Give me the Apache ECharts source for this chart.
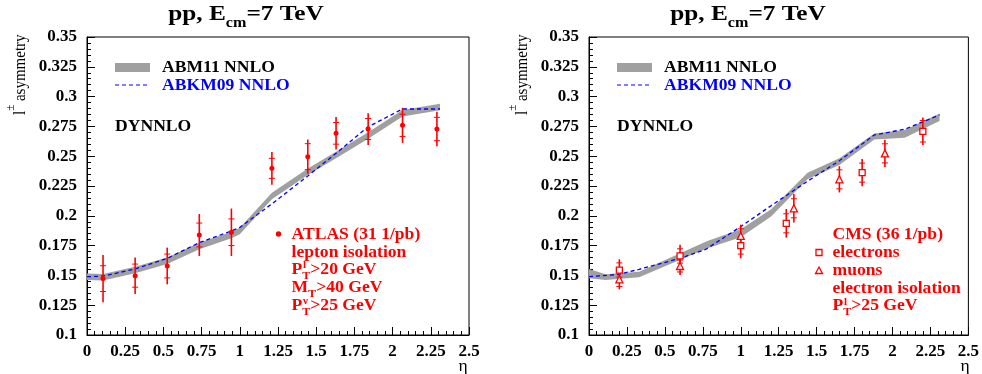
<!DOCTYPE html>
<html><head><meta charset="utf-8">
<script src="https://cdn.jsdelivr.net/npm/echarts@6/dist/echarts.min.js"></script>
<style>html,body{margin:0;padding:0;background:#fff}#c{width:982px;height:374px}</style>
</head><body><div id="c"></div>
<script>
// ---------- Axis ticks ----------
const xTickMin = 0, xTickMax = 2.5, xTickStep = 0.25;
const yTickMin = 0.1, yTickMax = 0.35, yTickStep = 0.025;

// ---------- Left panel: ATLAS ----------
const atlasEta      = [0.105, 0.315, 0.525, 0.735, 0.945, 1.21, 1.445, 1.63, 1.84, 2.065, 2.29];
const atlasAsym     = [0.1473, 0.1498, 0.1579, 0.1839, 0.1862, 0.2398, 0.2496, 0.2692, 0.2728, 0.2759, 0.2728];
const atlasTotErr   = [0.0199, 0.0153, 0.0154, 0.0176, 0.0199, 0.0138, 0.0144, 0.0136, 0.0133, 0.0147, 0.0145];
const atlasStatErr  = [0.0108, 0.0097, 0.0100, 0.0100, 0.0112, 0.0084, 0.0109, 0.0091, 0.0088, 0.0093, 0.0098];

const abm11LeftEta  = [0, 0.105, 0.315, 0.525, 0.735, 0.945, 1.0, 1.21, 1.445, 1.63, 1.835, 2.065, 2.31];
const abm11LeftLow  = [0.1462, 0.1458, 0.1518, 0.1596, 0.1720, 0.1812, 0.1846, 0.2139, 0.2343, 0.2483, 0.2643, 0.2833, 0.2885];
const abm11LeftHigh = [0.1516, 0.1512, 0.1572, 0.1650, 0.1774, 0.1866, 0.1900, 0.2193, 0.2397, 0.2537, 0.2697, 0.2887, 0.2939];

const abkm09LeftEta = [0, 0.105, 0.315, 0.525, 0.735, 0.945, 1.0, 1.21, 1.445, 1.63, 1.835, 2.065, 2.31];
const abkm09Left    = [0.1489, 0.1494, 0.1554, 0.1643, 0.1775, 0.1873, 0.1903, 0.2100, 0.2334, 0.2524, 0.2743, 0.2896, 0.2896];

// ---------- Right panel: CMS ----------
const cmsElEta      = [0.2, 0.6, 1.0, 1.3, 1.8, 2.2];
const cmsElAsym     = [0.1545, 0.1663, 0.1749, 0.1937, 0.2362, 0.2709];
const cmsElTotErr   = [0.0090, 0.0095, 0.0105, 0.0120, 0.0115, 0.0115];
const cmsElStatErr  = [0.0060, 0.0060, 0.0070, 0.0080, 0.0080, 0.0090];

const cmsMuEta      = [0.2, 0.6, 1.0, 1.35, 1.65, 1.95];
const cmsMuAsym     = [0.1467, 0.1579, 0.1831, 0.2063, 0.2306, 0.2524];
const cmsMuTotErr   = [0.0085, 0.0075, 0.0095, 0.0120, 0.0110, 0.0115];
const cmsMuStatErr  = [0.0060, 0.0050, 0.0060, 0.0080, 0.0080, 0.0080];

const abm11RightEta  = [0, 0.11, 0.33, 0.78, 1.0, 1.2, 1.44, 1.65, 1.88, 2.08, 2.31];
const abm11RightLow  = [0.1476, 0.1462, 0.1484, 0.1727, 0.1820, 0.1995, 0.2306, 0.2426, 0.2640, 0.2655, 0.2795];
const abm11RightHigh = [0.1553, 0.1509, 0.1531, 0.1789, 0.1887, 0.2055, 0.2362, 0.2482, 0.2691, 0.2720, 0.2858];

const abkm09RightEta = [0, 0.2, 0.33, 0.6, 0.77, 1.0, 1.2, 1.44, 1.65, 1.88, 2.08, 2.31];
const abkm09Right    = [0.1489, 0.1509, 0.1551, 0.1643, 0.1719, 0.1909, 0.2085, 0.2290, 0.2462, 0.2678, 0.2726, 0.2846];

// ---------- Texts ----------
const titleMain = 'pp, E', titleSub = 'cm', titleRest = '=7 TeV';
const yName = ' asymmetry', xName = 'η';
const legABM11 = 'ABM11 NNLO', legABKM09 = 'ABKM09 NNLO', legDY = 'DYNNLO';

// ---------- Rendering ----------
const FONT = '"Liberation Serif", "Times New Roman", serif';
const RED = '#ff0000', BLUE = '#0000ff', GREY = '#a0a0a0';
const PANEL_DX = 502;
const SX = 1.1;   // horizontal widening of text (reference glyphs are wide)

const chart = echarts.init(document.getElementById('c'), null, {renderer: 'canvas'});

function xAxis(gi) {
  return {
    type: 'value', gridIndex: gi, min: xTickMin, max: xTickMax, interval: xTickStep,
    axisLine: {show: true, onZero: false, lineStyle: {color: '#000', width: 1}},
    axisTick: {show: true, inside: true, length: 8, lineStyle: {color: '#000', width: 1}},
    minorTick: {show: true, splitNumber: 5, length: 4, lineStyle: {color: '#000', width: 1}},
    splitLine: {show: false},
    axisLabel: {margin: 8, color: '#000', fontFamily: 'Liberation Serif', fontWeight: 'bold', fontSize: 17,
      formatter: v => String(+(+v).toFixed(3))}
  };
}
function yAxis(gi) {
  return {
    type: 'value', gridIndex: gi, min: yTickMin, max: yTickMax, interval: yTickStep,
    axisLine: {show: true, onZero: false, lineStyle: {color: '#000', width: 1}},
    axisTick: {show: true, inside: true, length: 8, lineStyle: {color: '#000', width: 1}},
    minorTick: {show: true, splitNumber: 5, length: 4, lineStyle: {color: '#000', width: 1}},
    splitLine: {show: false},
    axisLabel: {margin: 10, color: '#000', fontFamily: 'Liberation Serif', fontWeight: 'bold', fontSize: 17,
      formatter: v => String(+(+v).toFixed(3))}
  };
}

function bandSeries(gi, xs, lo, hi) {
  return {
    type: 'custom', xAxisIndex: gi, yAxisIndex: gi, z: 2, silent: true,
    data: [[xs[0], lo[0]]],
    encode: {x: 0, y: 1},
    renderItem: function (params, api) {
      const pts = [];
      for (let i = 0; i < xs.length; i++) pts.push(api.coord([xs[i], hi[i]]));
      for (let i = xs.length - 1; i >= 0; i--) pts.push(api.coord([xs[i], lo[i]]));
      return {type: 'polygon', shape: {points: pts}, style: {fill: GREY, stroke: null}};
    }
  };
}
function lineSeries(gi, xs, ys) {
  return {
    type: 'line', xAxisIndex: gi, yAxisIndex: gi, z: 3, silent: true,
    data: xs.map((x, i) => [x, ys[i]]),
    showSymbol: false, symbol: 'none',
    lineStyle: {color: BLUE, width: 1.3, type: [4, 3]}
  };
}
function errSeries(gi, xs, ys, tot, stat) {
  return {
    type: 'custom', xAxisIndex: gi, yAxisIndex: gi, z: 4, silent: true,
    data: xs.map((x, i) => [x, ys[i], tot[i], stat[i]]),
    encode: {x: 0, y: 1},
    renderItem: function (params, api) {
      const x = api.value(0), y = api.value(1), t = api.value(2), s = api.value(3);
      const top = api.coord([x, y + t]), bot = api.coord([x, y - t]);
      const st = api.coord([x, y + s]), sb = api.coord([x, y - s]);
      const cw = 3;
      return {type: 'group', children: [
        {type: 'line', shape: {x1: top[0], y1: top[1], x2: bot[0], y2: bot[1]}, style: {stroke: RED, lineWidth: 1.6}},
        {type: 'line', shape: {x1: st[0] - cw, y1: st[1], x2: st[0] + cw, y2: st[1]}, style: {stroke: RED, lineWidth: 1}},
        {type: 'line', shape: {x1: sb[0] - cw, y1: sb[1], x2: sb[0] + cw, y2: sb[1]}, style: {stroke: RED, lineWidth: 1}}
      ]};
    }
  };
}
function markSeries(gi, xs, ys, symbol, size, hollow) {
  return {
    type: 'scatter', xAxisIndex: gi, yAxisIndex: gi, z: 5, silent: true,
    data: xs.map((x, i) => [x, ys[i]]),
    symbol: symbol, symbolSize: size,
    itemStyle: hollow ? {color: '#fff', borderColor: RED, borderWidth: 1.3, opacity: 1}
                      : {color: RED, opacity: 1}
  };
}

function txt(x, y, text, opts) {
  opts = opts || {};
  return {type: 'text', x: x, y: y, scaleX: opts.sx || SX, silent: true, z: 100,
    style: {text: text, fill: opts.color || '#000', font: (opts.weight || 'bold') + ' ' + (opts.size || 16) + 'px ' + FONT,
      align: opts.align || 'left', verticalAlign: opts.va || 'middle'}};
}
// text with subscript (and optional superscript stacked over it)
function subSupText(x, y, base, sub, sup, rest, color) {
  const els = [];
  els.push({type: 'text', x: x, y: y, scaleX: SX, silent: true, z: 100, style: {
    text: '{b|' + base + '}{s|' + sub + '}{b|' + rest + '}',
    align: 'left', verticalAlign: 'middle',
    rich: {
      b: {fill: color, fontFamily: FONT, fontWeight: 'bold', fontSize: 16, lineHeight: 18, verticalAlign: 'top'},
      s: {fill: color, fontFamily: FONT, fontWeight: 'bold', fontSize: 11, lineHeight: 11, padding: [9, 0, 0, 0], verticalAlign: 'top'}
    }}});
  if (sup) {
    els.push({type: 'text', x: x + 11.5, y: y - 5, scaleX: SX, silent: true, z: 100, style: {
      text: sup, fill: color, font: 'bold 10px ' + FONT, align: 'left', verticalAlign: 'middle'}});
  }
  return els;
}

function panelGraphics(dx) {
  const g = [];
  // title
  g.push({type: 'text', x: 246 + dx, y: 3, scaleX: 1.15, silent: true, z: 100, style: {
    text: '{b|' + titleMain + '}{s|' + titleSub + '}{b|' + titleRest + '}',
    align: 'center', verticalAlign: 'top',
    rich: {
      b: {fill: '#000', fontFamily: FONT, fontWeight: 'bold', fontSize: 22, lineHeight: 24, verticalAlign: 'top'},
      s: {fill: '#000', fontFamily: FONT, fontWeight: 'bold', fontSize: 14, lineHeight: 14, padding: [13, 0, 0, 0], verticalAlign: 'top'}
    }}});
  // y axis name (rotated)
  g.push({type: 'text', x: 17 + dx, y: 115, rotation: Math.PI / 2, scaleY: 1.12, silent: true, z: 100, style: {
    text: '{b|l}{p|±}{b|' + yName + '}',
    align: 'left', verticalAlign: 'middle',
    rich: {
      b: {fill: '#000', fontFamily: FONT, fontSize: 15, lineHeight: 22, verticalAlign: 'bottom'},
      p: {fill: '#000', fontFamily: FONT, fontSize: 11, lineHeight: 11, verticalAlign: 'top'}
    }}});
  // x axis name
  g.push(txt(463 + dx, 367, xName, {weight: 'normal', size: 16, align: 'center'}));
  // legend
  g.push({type: 'rect', x: 115 + dx, y: 63, shape: {width: 35, height: 9}, style: {fill: GREY}, silent: true, z: 100});
  g.push(txt(162 + dx, 68, legABM11));
  g.push({type: 'line', shape: {x1: 115 + dx, y1: 85, x2: 150 + dx, y2: 85}, style: {stroke: BLUE, lineWidth: 1.2, lineDash: [4, 3]}, silent: true, z: 100});
  g.push(txt(162 + dx, 85.5, legABKM09, {color: BLUE}));
  g.push(txt(115 + dx, 126.5, legDY));
  return g;
}

const graphics = [].concat(
  panelGraphics(0), panelGraphics(PANEL_DX),
  // ATLAS legend
  [{type: 'circle', shape: {cx: 278.5, cy: 234, r: 2.7}, style: {fill: RED}, silent: true, z: 100}],
  [txt(291.5, 234.5, 'ATLAS (31 1/pb)', {color: RED})],
  [txt(291.5, 252.5, 'lepton isolation', {color: RED})],
  subSupText(291.5, 270.5, 'P', 'T', 'l', '>20 GeV', RED),
  subSupText(291.5, 288.5, 'M', 'T', null, '>40 GeV', RED),
  subSupText(291.5, 306.5, 'P', 'T', 'ν', '>25 GeV', RED),
  // CMS legend
  [{type: 'rect', shape: {x: 816, y: 249.5, width: 6, height: 6}, style: {fill: '#fff', stroke: RED, lineWidth: 1.3}, silent: true, z: 100}],
  [{type: 'polygon', shape: {points: [[819, 267], [822.5, 273.5], [815.5, 273.5]]}, style: {fill: '#fff', stroke: RED, lineWidth: 1.3}, silent: true, z: 100}],
  [txt(832.5, 235, 'CMS (36 1/pb)', {color: RED})],
  [txt(832.5, 253, 'electrons', {color: RED})],
  [txt(832.5, 271, 'muons', {color: RED})],
  [txt(832.5, 289, 'electron isolation', {color: RED})],
  subSupText(832.5, 307, 'P', 'T', 'l', '>25 GeV', RED)
);

const option = {
  animation: false,
  backgroundColor: '#fff',
  grid: [
    {left: 87, top: 37, width: 382, height: 298, show: true, borderColor: '#000', borderWidth: 1, backgroundColor: 'transparent', containLabel: false},
    {left: 589, top: 37, width: 382, height: 298, show: true, borderColor: '#000', borderWidth: 1, backgroundColor: 'transparent', containLabel: false}
  ],
  xAxis: [xAxis(0), xAxis(1)],
  yAxis: [yAxis(0), yAxis(1)],
  series: [
    bandSeries(0, abm11LeftEta, abm11LeftLow, abm11LeftHigh),
    lineSeries(0, abkm09LeftEta, abkm09Left),
    errSeries(0, atlasEta, atlasAsym, atlasTotErr, atlasStatErr),
    markSeries(0, atlasEta, atlasAsym, 'circle', 5, false),
    bandSeries(1, abm11RightEta, abm11RightLow, abm11RightHigh),
    lineSeries(1, abkm09RightEta, abkm09Right),
    errSeries(1, cmsElEta, cmsElAsym, cmsElTotErr, cmsElStatErr),
    errSeries(1, cmsMuEta, cmsMuAsym, cmsMuTotErr, cmsMuStatErr),
    markSeries(1, cmsElEta, cmsElAsym, 'rect', 6, true),
    markSeries(1, cmsMuEta, cmsMuAsym, 'triangle', 7, true)
  ],
  graphic: graphics
};
chart.setOption(option);
</script>
</body></html>
